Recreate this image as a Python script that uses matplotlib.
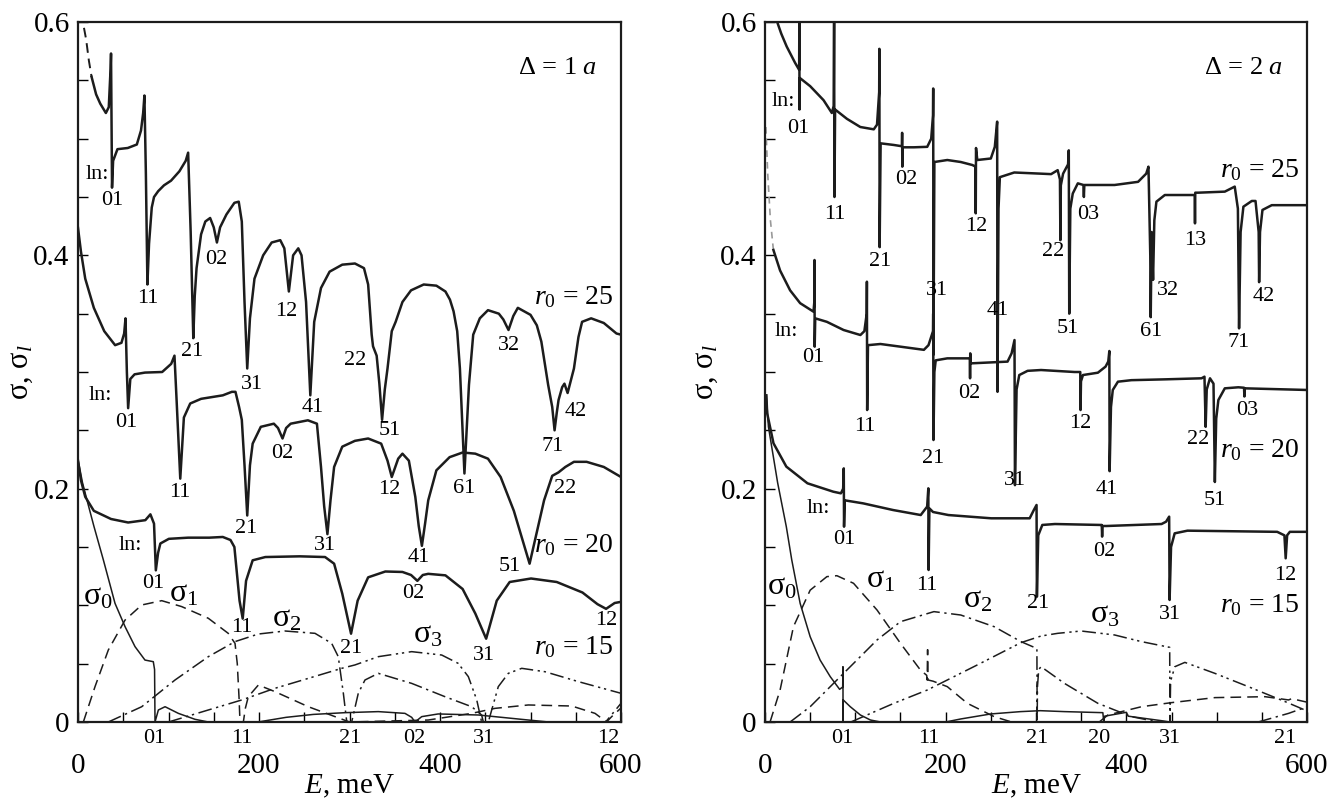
import matplotlib
matplotlib.use("Agg")
import matplotlib.pyplot as plt
import numpy as np

plt.rcParams['font.family'] = ['Liberation Serif', 'DejaVu Serif']
plt.rcParams['mathtext.fontset'] = 'custom'
plt.rcParams['mathtext.rm'] = 'Liberation Serif'
plt.rcParams['mathtext.it'] = 'Liberation Serif:italic'
plt.rcParams['mathtext.bf'] = 'Liberation Serif:bold'

# ---------------- LEFT PANEL (Delta = 1 a) ----------------
L25_head_x = [6.6, 9, 12, 15]
L25_head_y = [0.595, 0.585, 0.567, 0.553]
L25_x = [15, 20, 24.6, 30.8, 34, 36.0, 36.5, 37.2, 37.6, 38.8, 43.6, 55, 65, 69.6, 72, 73.4, 75, 76.7, 78.5, 81.5,
         84, 88.6, 95, 102.8, 112, 119, 121.7, 124.5, 127.4, 129, 131, 136, 140.7, 146, 150, 153.5, 157, 164, 172.8,
         177.6, 181, 184, 187, 190, 195, 204.6, 214, 223.5, 228, 233, 237.7, 243.4, 247, 252, 256.7, 261, 268.5,
         278, 292, 306, 316, 320.6, 324.5, 326, 330, 333, 336, 339, 342, 346.7, 351, 358.5, 368, 382, 396, 406,
         411, 415, 419, 422, 427, 432, 436.7, 444, 453, 465, 470, 475.7, 481, 486, 500, 507, 512, 519.5, 524,
         526.6, 529, 531, 535, 537.5, 541, 548, 553, 557, 567, 581, 595, 600]
L25_y = [0.553, 0.538, 0.530, 0.522, 0.527, 0.560, 0.573, 0.500, 0.458, 0.481, 0.491, 0.492, 0.495, 0.507, 0.522,
         0.537, 0.470, 0.375, 0.410, 0.441, 0.450, 0.455, 0.460, 0.464, 0.472, 0.481, 0.488, 0.420, 0.329, 0.365,
         0.389, 0.418, 0.429, 0.432, 0.424, 0.411, 0.424, 0.435, 0.445, 0.446, 0.429, 0.360, 0.303, 0.346, 0.380,
         0.400, 0.411, 0.413, 0.406, 0.369, 0.400, 0.406, 0.400, 0.360, 0.280, 0.343, 0.372, 0.386, 0.392, 0.393,
         0.389, 0.375, 0.332, 0.322, 0.314, 0.290, 0.259, 0.285, 0.303, 0.335, 0.343, 0.360, 0.370, 0.375, 0.374,
         0.369, 0.362, 0.352, 0.335, 0.303, 0.213, 0.289, 0.332, 0.346, 0.353, 0.350, 0.345, 0.336, 0.348, 0.355,
         0.349, 0.340, 0.326, 0.289, 0.270, 0.250, 0.265, 0.276, 0.287, 0.290, 0.282, 0.303, 0.330, 0.343, 0.346,
         0.342, 0.333, 0.332]

L20_x = [0, 3.3, 8, 17.5, 29, 41, 48, 51, 52.5, 54, 55.4, 57.8, 62.5, 74, 93, 103, 106.6, 109, 113, 117, 124, 136,
         160, 170, 174, 178, 181, 184, 187, 190, 193, 202, 216.4, 221, 226, 230, 235, 254, 264, 268.5, 272, 275.6,
         279, 283, 292, 306, 320.6, 335, 342, 346.7, 353.8, 358.5, 365.6, 372.7, 376.5, 380, 383.5, 387, 396, 410.6,
         425, 439, 453, 467, 481.6, 493.5, 499, 505, 515, 524, 531, 538.5, 548, 562, 581, 600]
L20_y = [0.4235, 0.403, 0.380, 0.355, 0.335, 0.323, 0.325, 0.333, 0.346, 0.300, 0.269, 0.294, 0.298, 0.2995,
         0.300, 0.307, 0.314, 0.275, 0.2086, 0.261, 0.273, 0.277, 0.280, 0.283, 0.283, 0.270, 0.259, 0.220, 0.177,
         0.220, 0.2386, 0.253, 0.2557, 0.252, 0.243, 0.252, 0.2557, 0.2586, 0.2557, 0.2186, 0.185, 0.161, 0.190,
         0.2186, 0.236, 0.241, 0.243, 0.2386, 0.224, 0.210, 0.2257, 0.230, 0.224, 0.193, 0.168, 0.151, 0.170, 0.190,
         0.2157, 0.227, 0.231, 0.230, 0.2257, 0.210, 0.181, 0.150, 0.1357, 0.156, 0.190, 0.211, 0.214, 0.2186,
         0.223, 0.223, 0.2186, 0.210]

L15_x = [0, 3.3, 8, 17.5, 36.5, 55.4, 74.4, 80, 84, 86, 88.5, 91, 100.4, 121.7, 145, 160, 168.5, 172.8, 178.5,
         182, 185.7, 193, 207, 245, 273, 283, 292, 301.7, 309, 320.6, 339.6, 358.5, 368, 375, 381, 387, 406, 425,
         439, 451, 462.7, 477, 500.6, 529, 557.4, 574, 583.5, 593, 600]
L15_y = [0.224, 0.207, 0.193, 0.181, 0.174, 0.171, 0.173, 0.178, 0.170, 0.130, 0.145, 0.153, 0.157, 0.158, 0.158,
         0.1586, 0.156, 0.150, 0.104, 0.0886, 0.121, 0.1386, 0.1414, 0.142, 0.1414, 0.1357, 0.110, 0.0757, 0.104,
         0.124, 0.129, 0.1286, 0.126, 0.121, 0.126, 0.127, 0.1257, 0.114, 0.093, 0.0714, 0.104, 0.120, 0.123,
         0.120, 0.111, 0.101, 0.097, 0.102, 0.103]

LS0_x = [0, 5, 10, 17.5, 28, 40.9, 52, 63, 74, 83.2, 84.6, 85.1, 88.8, 96.2, 110.9, 129.3, 144, 199, 230, 260,
         295, 331.8, 361.3, 368.7, 372.4, 379.8, 398, 442.4, 497.6, 520, 600]
LS0_y = [0.225, 0.205, 0.190, 0.168, 0.139, 0.1017, 0.0817, 0.0646, 0.0531, 0.0517, 0.045, 0.0, 0.0103, 0.0131,
         0.0074, 0.0023, 0.0, 0.0, 0.004, 0.0065, 0.008, 0.0089, 0.0074, 0.004, 0.0, 0.0046, 0.0069, 0.006,
         0.0017, 0.0, 0.0]

LS1_x = [5.9, 18.8, 33.5, 52, 70.4, 92.5, 114.6, 144, 166, 173.5, 176, 178, 179, 182.7, 185, 188.2, 199.3, 217.7,
         254.5, 284, 300, 387, 435, 460.8, 497.6, 545.6, 571.3, 584, 589.7, 600]
LS1_y = [0.0, 0.0303, 0.0617, 0.0874, 0.1003, 0.104, 0.0989, 0.0889, 0.076, 0.0674, 0.05, 0.02, 0.0, 0.0, 0.012,
         0.0217, 0.0317, 0.026, 0.0131, 0.0046, 0.0, 0.0017, 0.0074, 0.0117, 0.0146, 0.0137, 0.0074, 0.0,
         0.0046, 0.012]

LS2_x = [33.5, 70.4, 107.2, 144, 173.5, 199.2, 228.7, 261.9, 280.3, 287.6, 293.2, 297, 302.4, 309.7, 317.1,
         331.8, 368.7, 405.5, 435, 446, 447.9, 583, 600]
LS2_y = [0.0, 0.0131, 0.036, 0.056, 0.0689, 0.0754, 0.078, 0.076, 0.0674, 0.056, 0.0246, 0.0, 0.0, 0.0246, 0.036,
         0.0417, 0.0331, 0.0217, 0.0131, 0.006, 0.0, 0.0, 0.016]

LS3_x = [100, 144, 181, 217.7, 254.5, 291.4, 306, 331.8, 368.7, 401.9, 420, 431.3, 440.6, 446, 453.4, 464.4,
         475.5, 490.3, 516, 552.9, 600]
LS3_y = [0.0, 0.0103, 0.0189, 0.0289, 0.0374, 0.046, 0.0489, 0.056, 0.0603, 0.0574, 0.0503, 0.0389, 0.0189, 0.0,
         0.0, 0.0303, 0.0417, 0.046, 0.0431, 0.0346, 0.0246]

# ---------------- RIGHT PANEL (Delta = 2 a) ----------------
R25_x = [13.5, 18, 24, 33.3, 37.8, 38.0, 38.2, 38.6, 50, 64.8, 74, 76.0, 76.5, 76.9, 77.6, 90.7, 105.5, 120.4, 124,
         126.4, 126.6, 126.9, 128, 142.6, 151.6, 151.8, 152.0, 152.3, 164.8, 179.6, 184, 186.0, 186.2, 186.5,
         187.5, 201.8, 216.7, 229.6, 233.1, 233.3, 233.6, 235, 250, 254.4, 257.0, 257.4, 258.5, 260, 275.9, 305.6,
         316.7, 324, 326.5, 327, 327.5, 330, 335.5, 336.3, 336.8, 338, 340.7, 346.3, 352.5, 353, 353.5, 357.4,
         387, 413, 422, 424.5, 426.5, 427, 428, 429.6, 431, 433.3, 442.6, 472, 475.7, 476, 476.3, 479.6, 509, 520,
         523.5, 524.8, 526.5, 529.6, 538.9, 543, 546.5, 547, 548, 550.7, 561, 600]
R25_y = [0.600, 0.590, 0.579, 0.565, 0.559, 0.600, 0.525, 0.552, 0.545, 0.533, 0.522, 0.528, 0.600, 0.450, 0.525,
         0.517, 0.510, 0.508, 0.512, 0.540, 0.577, 0.407, 0.496, 0.4946, 0.4935, 0.505, 0.476, 0.4926, 0.4926,
         0.493, 0.500, 0.520, 0.543, 0.3146, 0.480, 0.4817, 0.480, 0.4774, 0.476, 0.436, 0.492, 0.4817, 0.483,
         0.493, 0.5146, 0.283, 0.440, 0.467, 0.471, 0.470, 0.4696, 0.473, 0.465, 0.413, 0.460, 0.470, 0.478,
         0.490, 0.350, 0.440, 0.453, 0.4617, 0.4603, 0.450, 0.4603, 0.4603, 0.4603, 0.463, 0.470, 0.476, 0.400,
         0.347, 0.420, 0.379, 0.430, 0.446, 0.4517, 0.4517, 0.4517, 0.4274, 0.4537, 0.4537, 0.4546, 0.4589,
         0.440, 0.3374, 0.420, 0.4417, 0.4466, 0.4466, 0.420, 0.377, 0.420, 0.4389, 0.443, 0.443]

R20_head_x = [1.0, 3.0, 6.0, 9.3]
R20_head_y = [0.510, 0.470, 0.430, 0.4046]
R20_x = [9.3, 16.7, 27.8, 38.9, 53.7, 54.6, 54.8, 55.0, 55.6, 68.5, 87, 105.6, 110, 112.6, 112.8, 113.1, 114,
         127.8, 150, 175.9, 181, 186.0, 186.2, 186.5, 187.5, 189, 201.8, 224, 226.8, 227, 227.2, 227.6, 268.5,
         273, 276.2, 276.7, 278.5, 281.5, 290.7, 305.6, 342.6, 349, 349.3, 349.8, 352, 368.5, 377, 380, 381.2,
         381.5, 383, 385, 390.7, 405.6, 442.6, 483.3, 486.5, 487.8, 489, 492.6, 496.5, 498, 499.5, 501.9, 509,
         524, 530.3, 530.7, 531.2, 600]
R20_y = [0.4046, 0.387, 0.370, 0.359, 0.3517, 0.360, 0.396, 0.3217, 0.346, 0.343, 0.336, 0.3317, 0.335, 0.350,
         0.3774, 0.2674, 0.323, 0.324, 0.3217, 0.319, 0.323, 0.335, 0.350, 0.2417, 0.300, 0.310, 0.3117, 0.3117,
         0.3117, 0.2946, 0.316, 0.3074, 0.3089, 0.316, 0.3274, 0.203, 0.285, 0.2974, 0.301, 0.3017, 0.300, 0.300,
         0.2674, 0.292, 0.2974, 0.2994, 0.3046, 0.309, 0.318, 0.215, 0.270, 0.2846, 0.2917, 0.293, 0.2937,
         0.2946, 0.296, 0.253, 0.285, 0.2946, 0.290, 0.2057, 0.260, 0.276, 0.286, 0.2869, 0.2865, 0.279, 0.286,
         0.2846]

R15_x = [1.5, 2.4, 9.4, 23.6, 47, 75.6, 84, 86.5, 87.2, 87.5, 88.3, 108.7, 141.7, 172.4, 179.5, 180.8, 181.1,
         182, 186, 203, 250.4, 293, 297.6, 300.6, 301, 302.5, 307, 321, 371, 372.8, 373.2, 373.6, 378, 439, 444,
         447.4, 447.9, 449.5, 453.5, 467.7, 567, 575, 576.4, 578, 581, 600]
R15_y = [0.280, 0.2646, 0.2389, 0.2189, 0.2046, 0.1974, 0.1960, 0.200, 0.2174, 0.1674, 0.190, 0.1874, 0.1817,
         0.1774, 0.1846, 0.2003, 0.1303, 0.1831, 0.180, 0.1774, 0.1746, 0.1746, 0.1817, 0.186, 0.1074, 0.160,
         0.1689, 0.1697, 0.1689, 0.1689, 0.1589, 0.168, 0.168, 0.1697, 0.1717, 0.176, 0.1046, 0.150, 0.1617,
         0.164, 0.163, 0.160, 0.1403, 0.160, 0.163, 0.163]

RS0_x = [1.5, 3.8, 14, 23.6, 29.6, 38.9, 50, 61, 72.2, 82.6, 86.0, 86.3, 86.4, 86.6, 94.4, 105.6, 116.7, 128, 200,
         216.7, 250, 283, 304.8, 331.5, 374, 375, 376, 400, 402, 440, 448, 600]
RS0_y = [0.280, 0.253, 0.205, 0.1674, 0.139, 0.1017, 0.0731, 0.0531, 0.0389, 0.028, 0.030, 0.0474, 0.0, 0.0189,
         0.0131, 0.006, 0.0017, 0.0, 0.0, 0.0026, 0.0069, 0.0089, 0.0097, 0.0089, 0.008, 0.0, 0.005, 0.0083,
         0.005, 0.001, 0.0, 0.0]

RS1_x = [5.6, 16.7, 31.5, 50, 68.5, 79.6, 98, 124, 150, 172, 179, 179.5, 180, 180.5, 186, 201.8, 224, 253.7, 273,
         370, 379.6, 416.7, 450, 498, 553.6, 579.6, 583, 600]
RS1_y = [0.0, 0.0274, 0.0817, 0.113, 0.1246, 0.1254, 0.1189, 0.096, 0.0674, 0.0446, 0.040, 0.036, 0.062, 0.036,
         0.035, 0.0303, 0.016, 0.0046, 0.0, 0.0, 0.006, 0.0131, 0.0166, 0.0209, 0.0217, 0.0189, 0.020, 0.017]

RS2_x = [27.8, 50, 87, 124, 150, 187, 216.7, 253.7, 283.3, 301, 301.3, 301.6, 303, 305.6, 331.5, 368.5, 405.6,
         435, 546, 579.6, 600]
RS2_y = [0.0, 0.0131, 0.0417, 0.0703, 0.086, 0.0946, 0.0917, 0.0817, 0.0689, 0.063, 0.0, 0.030, 0.045, 0.0474,
         0.0331, 0.016, 0.0046, 0.0, 0.0, 0.0074, 0.013]

RS3_x = [95, 101.9, 142.6, 179.6, 201.8, 235, 283.3, 305.6, 324, 350, 387, 416.7, 448, 448.3, 449, 453.7, 464.8,
         498, 535, 576, 600]
RS3_y = [0.0, 0.0023, 0.016, 0.0274, 0.036, 0.0489, 0.068, 0.0737, 0.076, 0.078, 0.0746, 0.0689, 0.064, 0.0,
         0.035, 0.0474, 0.0511, 0.0417, 0.0303, 0.0174, 0.0095]

# ---------------- LABELS ----------------
L_modes = [
    ('01', 37.4, 0.447), ('11', 76.7, 0.363), ('21', 126.5, 0.318), ('02', 152.5, 0.396), ('31', 192.8, 0.289),
    ('12', 230.6, 0.352), ('41', 259, 0.270), ('22', 306.4, 0.310), ('51', 344.3, 0.250), ('61', 427.2, 0.200),
    ('32', 476, 0.323), ('71', 524, 0.236), ('42', 550.3, 0.266),
    ('01', 53, 0.257), ('11', 112.2, 0.197), ('21', 185.6, 0.166), ('02', 226, 0.230), ('31', 273.3, 0.151),
    ('12', 344.3, 0.199), ('41', 376.5, 0.141), ('51', 477, 0.133), ('22', 538.5, 0.200),
    ('01', 82.9, 0.119), ('11', 181, 0.081), ('21', 301.7, 0.063), ('02', 370, 0.110), ('31', 448.5, 0.057),
    ('12', 583.5, 0.087),
]
L_ln = [(21.3, 0.469), (24.6, 0.280), (57.8, 0.151)]
L_bottom = [('01', 83.8), ('11', 181), ('21', 300.7), ('02', 371.8), ('31', 448.5), ('12', 586)]
L_r0 = [('25', 0.364), ('20', 0.152), ('15', 0.064)]
L_sig = [('0', 22, 0.107), ('1', 117, 0.110), ('2', 230.6, 0.0886), ('3', 387, 0.0743)]

R_modes = [
    ('01', 37, 0.509), ('11', 77.8, 0.435), ('21', 127, 0.395), ('02', 156.7, 0.465), ('31', 190, 0.370),
    ('12', 233.3, 0.425), ('41', 257.4, 0.353), ('22', 318.5, 0.403), ('03', 357.4, 0.435), ('51', 335, 0.337),
    ('61', 427, 0.335), ('32', 446.3, 0.370), ('13', 476, 0.413), ('71', 524.8, 0.325), ('42', 551.9, 0.365),
    ('01', 53.7, 0.312), ('11', 111, 0.253), ('21', 186.6, 0.226), ('02', 225.9, 0.282), ('31', 276.4, 0.207),
    ('12', 349.3, 0.256), ('41', 378, 0.199), ('22', 479.6, 0.242), ('51', 498.4, 0.190), ('03', 533.3, 0.267),
    ('01', 87.4, 0.156), ('11', 179.5, 0.117), ('21', 302.3, 0.102), ('02', 375.5, 0.146), ('31', 448.8, 0.092),
    ('12', 576.3, 0.126),
]
R_ln = [(20.4, 0.532), (24, 0.335), (59, 0.183)]
R_bottom = [('01', 85), ('11', 181), ('21', 301), ('20', 370), ('31', 448), ('21', 576)]
R_r0 = [('25', 0.473), ('20', 0.233), ('15', 0.100)]
R_sig = [('0', 18.5, 0.116), ('1', 127.8, 0.122), ('2', 235, 0.1046), ('3', 376, 0.0917)]

# ---------------- DRAWING ----------------
W, H = 1341, 800
fig = plt.figure(figsize=(W / 100, H / 100), dpi=100)
axL = fig.add_axes([78 / W, 1 - 722 / H, (621 - 78) / W, 700 / H])
axR = fig.add_axes([765 / W, 1 - 722 / H, (1307 - 765) / W, 700 / H])

ink = '#1c1c1c'
main_kw = dict(color=ink, lw=1.8, solid_joinstyle='round')
thin = dict(color=ink, lw=1.1)
dash1 = (0, (7, 4))
dash2 = (0, (9, 3, 1.5, 3))
dash3 = (0, (9, 3, 1.5, 2.5, 1.5, 3))

TICK_FS = 21
MODE_FS = 16
R0_FS = 20
SIG_FS = 23


def style_axes(ax, delta):
    ax.set_xlim(0, 600)
    ax.set_ylim(0, 0.6)
    ax.set_xticks([0, 200, 400, 600])
    ax.set_xticklabels(['0', '200', '400', '600'])
    ax.set_xticks(np.arange(0, 601, 50), minor=True)
    ax.set_yticks([0, 0.2, 0.4, 0.6])
    ax.set_yticklabels(['0', '0.2', '0.4', '0.6'])
    ax.set_yticks(np.arange(0, 0.601, 0.05), minor=True)
    ax.tick_params(which='both', direction='in', length=7, width=1.0, top=False, right=False)
    ax.tick_params(axis='x', which='major', pad=22, labelsize=TICK_FS)
    ax.tick_params(axis='y', which='major', pad=6, labelsize=TICK_FS)
    for s in ax.spines.values():
        s.set_linewidth(1.6)
        s.set_color(ink)
    ax.set_xlabel(r'$E$, meV', fontsize=TICK_FS, labelpad=0)
    ax.set_ylabel(r'σ, σ$_{l}$', fontsize=22, labelpad=4)
    ax.text(0.955, 0.935, r'Δ = %d $a$' % delta, transform=ax.transAxes, ha='right', va='center', fontsize=19)


def labels(ax, modes, lns, bottom, r0s, sigs):
    for t, x, y in modes:
        ax.text(x, y, t, ha='center', va='center', fontsize=MODE_FS)
    for x, y in lns:
        ax.text(x, y, 'ln:', ha='center', va='center', fontsize=MODE_FS)
    tr = ax.get_xaxis_transform()
    for t, x in bottom:
        ax.text(x, -0.023, t, transform=tr, ha='center', va='center', fontsize=MODE_FS)
    for t, y in r0s:
        ax.text(592, y, r'$r_0$ = ' + t, ha='right', va='center', fontsize=R0_FS)
    for t, x, y in sigs:
        ax.text(x, y, r'σ$_{%s}$' % t, ha='center', va='center', fontsize=SIG_FS)


# Left panel
axL.plot(L25_head_x, L25_head_y, color=ink, lw=1.4, ls=(0, (5, 3)))
axL.plot(L25_x, L25_y, **main_kw)
axL.plot(L20_x, L20_y, **main_kw)
axL.plot(L15_x, L15_y, **main_kw)
axL.plot(LS0_x, LS0_y, **thin)
axL.plot(LS1_x, LS1_y, ls=dash1, **thin)
axL.plot(LS2_x, LS2_y, ls=dash2, **thin)
axL.plot(LS3_x, LS3_y, ls=dash3, **thin)
style_axes(axL, 1)
labels(axL, L_modes, L_ln, L_bottom, L_r0, L_sig)

# Right panel
axR.plot(R25_x, R25_y, **main_kw)
axR.plot(R20_head_x, R20_head_y, color='#999999', lw=1.2, ls=(0, (4, 3)))
axR.plot(R20_x, R20_y, **main_kw)
axR.plot(R15_x, R15_y, **main_kw)
axR.plot(RS0_x, RS0_y, **thin)
axR.plot(RS1_x, RS1_y, ls=dash1, **thin)
axR.plot(RS2_x, RS2_y, ls=dash2, **thin)
axR.plot(RS3_x, RS3_y, ls=dash3, **thin)
style_axes(axR, 2)
labels(axR, R_modes, R_ln, R_bottom, R_r0, R_sig)

axL.yaxis.set_label_coords(-0.080, 0.5)
axR.yaxis.set_label_coords(-0.083, 0.5)
for ax in (axL, axR):
    ax.xaxis.set_label_coords(0.5, -0.072)

fig.savefig('out.png', dpi=100)
